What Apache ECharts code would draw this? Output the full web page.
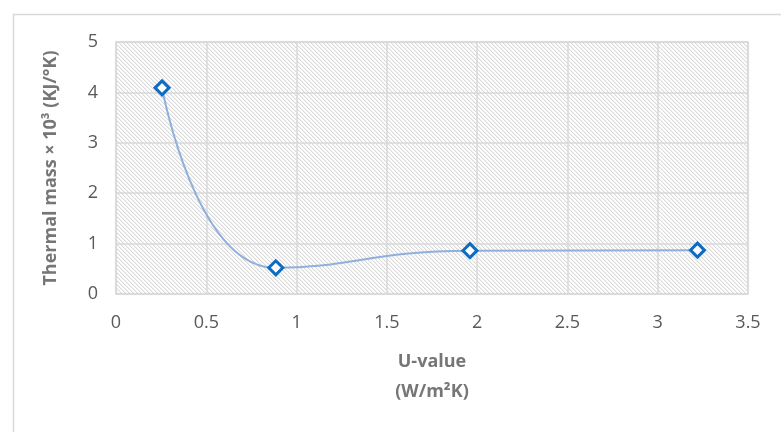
<!DOCTYPE html>
<html><head><meta charset="utf-8">
<script src="https://cdn.jsdelivr.net/npm/echarts@6/dist/echarts.min.js"></script>
<style>html,body{margin:0;padding:0;background:#fff}#c{width:781px;height:432px}</style>
</head><body><div id="c"></div>
<script>
const uValues = [0.255, 0.885, 1.96, 3.22];
const thermalMass = [4.09, 0.52, 0.86, 0.87];
const xTicks = [0, 0.5, 1, 1.5, 2, 2.5, 3, 3.5];
const yTicks = [0, 1, 2, 3, 4, 5];

function makePattern() {
  const s = 4;
  const cv = document.createElement('canvas');
  cv.width = s; cv.height = s;
  const ctx = cv.getContext('2d');
  const img = ctx.createImageData(s, s);
  for (let y = 0; y < s; y++) for (let x = 0; x < s; x++) {
    const m = ((x - y) % s + s) % s;
    const i = (y * s + x) * 4;
    const v = m === 0 ? 218 : (m === 1 ? 240 : 255);
    img.data[i] = v; img.data[i+1] = v; img.data[i+2] = v; img.data[i+3] = 255;
  }
  ctx.putImageData(img, 0, 0);
  return cv;
}

const chart = echarts.init(document.getElementById('c'));
const font = '"Open Sans", Lato, sans-serif';
chart.setOption({
  animation: false,
  backgroundColor: '#fff',
  graphic: [{
    type: 'rect', left: 11, top: 12, shape: {width: 800, height: 440},
    style: {fill: 'none', stroke: '#d9d9d9', lineWidth: 1.5}, silent: true
  }, {
    type: 'text', x: 432, y: 347,
    style: {text: 'U-value\n(W/m²K)', font: 'bold 18px ' + font, fill: '#767676', align: 'center', verticalAlign: 'top', lineHeight: 30}
  }],
  grid: {
    left: 116, right: 33, top: 42, bottom: 138, show: true,
    backgroundColor: {image: makePattern(), repeat: 'repeat'},
    borderColor: '#d9d9d9', borderWidth: 1.5
  },
  xAxis: {
    type: 'value', min: 0, max: 3.5, interval: 0.5,
    axisLine: {show: false}, axisTick: {show: false},
    splitLine: {show: true, lineStyle: {color: '#d9d9d9', width: 1.5}},
    axisLabel: {color: '#595959', fontSize: 18, fontFamily: font, margin: 20,
      formatter: v => xTicks.includes(v) ? String(v) : ''}
  },
  yAxis: {
    type: 'value', min: 0, max: 5, interval: 1,
    name: 'Thermal mass × 10³ (KJ/°K)', nameLocation: 'middle', nameGap: 56,
    nameTextStyle: {color: '#767676', fontSize: 18, fontWeight: 'bold', fontFamily: font},
    axisLine: {show: false}, axisTick: {show: false},
    splitLine: {show: true, lineStyle: {color: '#d9d9d9', width: 1.5}},
    axisLabel: {color: '#595959', fontSize: 18, fontFamily: font, margin: 18,
      formatter: v => yTicks.includes(v) ? String(v) : ''}
  },
  series: [{
    type: 'line', smooth: 0.5,
    data: uValues.map((x, i) => [x, thermalMass[i]]),
    lineStyle: {color: '#8fb0dc', width: 2},
    symbol: 'diamond', symbolSize: 14,
    itemStyle: {color: '#fff', borderColor: '#0a6cc4', borderWidth: 3}
  }]
});
</script></body></html>
